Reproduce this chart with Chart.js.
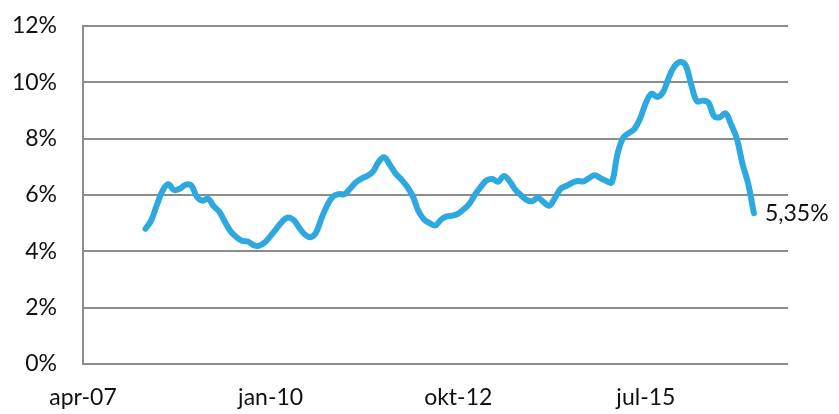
<!DOCTYPE html>
<html>
<head>
<meta charset="utf-8">
<script src="https://cdn.jsdelivr.net/npm/chart.js@4"></script>
<style>
  html, body { margin: 0; padding: 0; background: #fff; }
  #wrap { width: 839px; height: 414px; }
</style>
</head>
<body>
<div id="wrap"><canvas id="chart" width="839" height="414"></canvas></div>
<script>
/** Month names used for the category labels */
const monthNames = ['jan', 'feb', 'mar', 'apr', 'mai', 'jun', 'jul', 'aug', 'sep', 'okt', 'nov', 'des'];
/** First month on the axis (apr-07) and number of monthly categories */
const firstYear = 2007;
const firstMonth = 3;
const monthCount = 125;
/** Every n-th month gets a tick label */
const labelStep = 33;
/** Index of the first month that has a value (mar-08) */
const seriesStart = 11;
/** Monthly values in percent, mar-08 .. feb-17 */
const values = [
  4.8, 5.1, 5.65, 6.15, 6.38, 6.18, 6.22, 6.36, 6.35, 5.95,
  5.8, 5.87, 5.6, 5.4, 5.03, 4.7, 4.5, 4.37, 4.35, 4.22,
  4.2, 4.32, 4.55, 4.8, 5.05, 5.2, 5.12, 4.85, 4.6, 4.5,
  4.67, 5.2, 5.65, 5.95, 6.03, 6.03, 6.23, 6.45, 6.58, 6.68,
  6.83, 7.18, 7.34, 7.06, 6.76, 6.55, 6.3, 5.96, 5.43, 5.13,
  5.0, 4.92, 5.13, 5.24, 5.27, 5.34, 5.5, 5.7, 6.03, 6.3,
  6.52, 6.57, 6.47, 6.67, 6.5, 6.2, 6.0, 5.83, 5.78, 5.9,
  5.75, 5.62, 5.9, 6.22, 6.32, 6.43, 6.5, 6.48, 6.6, 6.7,
  6.6, 6.5, 6.45, 7.45, 8.03, 8.2, 8.35, 8.72, 9.27, 9.6,
  9.48, 9.65, 10.15, 10.56, 10.72, 10.6, 9.9, 9.33, 9.35, 9.28,
  8.8, 8.76, 8.9, 8.5, 8.0, 7.1, 6.4, 5.35
];
/** Text shown next to the last point */
const lastLabel = '5,35%';

const labels = [];
for (let i = 0; i < monthCount; i++) {
  const m = (firstMonth + i) % 12;
  const y = firstYear + Math.floor((firstMonth + i) / 12);
  labels.push(monthNames[m] + '-' + String(y % 100).padStart(2, '0'));
}
const seriesData = new Array(seriesStart).fill(null).concat(values);

const fontFamily = 'Lato, "Open Sans", sans-serif';
const gridColor = '#8c8c8c';

// draws the last value next to the end of the line
const endLabelPlugin = {
  id: 'endLabel',
  afterDatasetsDraw: (chart) => {
    const meta = chart.getDatasetMeta(0);
    const pt = meta.data[seriesData.length - 1];
    const ctx = chart.ctx;
    ctx.save();
    ctx.font = '23px ' + fontFamily;
    ctx.fillStyle = '#111';
    ctx.textAlign = 'left';
    ctx.textBaseline = 'middle';
    ctx.fillText(lastLabel, pt.x + 11, pt.y);
    ctx.restore();
  }
};

new Chart(document.getElementById('chart'), {
  type: 'line',
  data: {
    labels: labels,
    datasets: [{
      data: seriesData,
      borderColor: '#2EA9DF',
      borderWidth: 6,
      pointRadius: 0,
      tension: 0.4,
      borderCapStyle: 'round',
      borderJoinStyle: 'round',
      fill: false,
    }]
  },
  options: {
    responsive: false,
    animation: false,
    layout: {
      padding: { top: 26, right: 51, left: 0, bottom: 0 }
    },
    scales: {
      x: {
        grid: { display: false },
        border: { display: false },
        afterFit: (scale) => { scale.height = 50; },
        ticks: {
          autoSkip: false,
          maxRotation: 0,
          padding: 12,
          color: '#111',
          font: { family: fontFamily, size: 23 },
          callback: (value, index) => index % labelStep === 0 ? labels[index] : null,
        }
      },
      y: {
        min: 0,
        max: 12,
        // fixed width, and no extra top room from the tick padding
        afterFit: (scale) => {
          scale.width = 83;
          scale.paddingTop = 0;
          scale.paddingBottom = 0;
        },
        grid: { color: gridColor, lineWidth: 2, drawTicks: false },
        border: { color: gridColor, width: 2 },
        ticks: {
          stepSize: 2,
          padding: 26,
          color: '#111',
          font: { family: fontFamily, size: 23 },
          callback: (value) => value + '%',
        }
      }
    },
    plugins: {
      legend: { display: false },
      tooltip: { enabled: false }
    }
  },
  plugins: [endLabelPlugin]
});
</script>
</body>
</html>
